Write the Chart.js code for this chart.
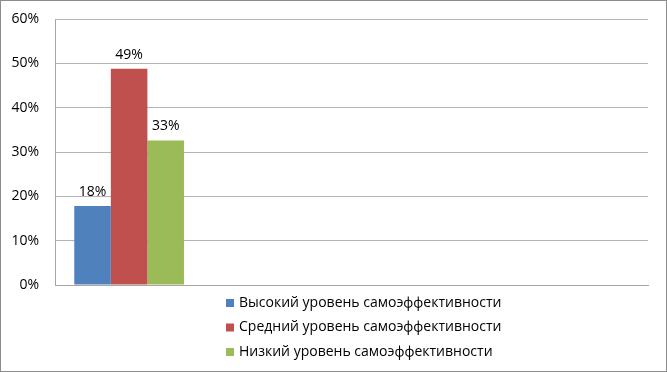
<!DOCTYPE html>
<html>
<head>
<meta charset="utf-8">
<script src="https://cdn.jsdelivr.net/npm/chart.js@4/dist/chart.umd.min.js"></script>
<style>
  html, body { margin: 0; padding: 0; background: #fff; }
  #wrap { width: 665px; height: 370px; border: 1px solid #8c8c8c; }
</style>
</head>
<body>
<div id="wrap"><canvas id="chart" width="665" height="370"></canvas></div>
<script>
// Categories (only the first carries data, the rest are empty slots)
const categories = ['', '', '', ''];
const seriesNames = [
  'Высокий уровень самоэффективности',
  'Средний уровень самоэффективности',
  'Низкий уровень самоэффективности'
];
const highValues = [0.178, null, null, null];
const midValues = [0.488, null, null, null];
const lowValues = [0.326, null, null, null];
const yTicks = [0, 0.1, 0.2, 0.3, 0.4, 0.5, 0.6];
const colors = ['#4f81bd', '#c0504d', '#9bbb59'];

const fontFamily = '"Open Sans", "Noto Sans", sans-serif';

// Value labels above bars
const valueLabels = {
  id: 'valueLabels',
  afterDatasetsDraw(chart) {
    const ctx = chart.ctx;
    ctx.save();
    ctx.font = '14px ' + fontFamily;
    ctx.fillStyle = '#000';
    ctx.textAlign = 'center';
    ctx.textBaseline = 'bottom';
    chart.data.datasets.forEach((ds, i) => {
      chart.getDatasetMeta(i).data.forEach((bar, j) => {
        const v = ds.data[j];
        if (v == null) return;
        ctx.fillText(Math.round(v * 100) + '%', bar.x, bar.y - 7);
      });
    });
    ctx.restore();
  }
};

// Vertical legend below the plot, as in the original
const stackedLegend = {
  id: 'stackedLegend',
  afterDraw(chart) {
    const ctx = chart.ctx;
    ctx.save();
    ctx.font = '14px ' + fontFamily;
    ctx.textBaseline = 'middle';
    ctx.textAlign = 'left';
    chart.data.datasets.forEach((ds, i) => {
      const y = 302 + i * 24.5;
      ctx.fillStyle = ds.backgroundColor;
      ctx.fillRect(225, y - 4, 8, 8);
      ctx.fillStyle = '#000';
      ctx.fillText(ds.label, 238, y);
    });
    ctx.restore();
  }
};

new Chart(document.getElementById('chart'), {
  type: 'bar',
  data: {
    labels: categories,
    datasets: [
      { label: seriesNames[0], data: highValues, backgroundColor: colors[0] },
      { label: seriesNames[1], data: midValues, backgroundColor: colors[1] },
      { label: seriesNames[2], data: lowValues, backgroundColor: colors[2] }
    ]
  },
  options: {
    responsive: false,
    animation: false,
    devicePixelRatio: 1,
    layout: { padding: { top: 18, right: 18, bottom: 78, left: 0 } },
    datasets: { bar: { categoryPercentage: 0.74, barPercentage: 1 } },
    plugins: {
      legend: { display: false },
      tooltip: { enabled: false }
    },
    scales: {
      x: {
        ticks: { display: false },
        grid: { display: false },
        border: { color: '#a6a6a6' }
      },
      y: {
        min: 0,
        max: 0.6,
        afterBuildTicks(scale) {
          scale.ticks = yTicks.map(v => ({ value: v }));
        },
        afterFit(scale) {
          scale.width = 54;
          scale.paddingTop = 0;
        },
        ticks: {
          color: '#000',
          padding: 16,
          font: { family: fontFamily, size: 14 },
          callback: v => Math.round(v * 100) + '%'
        },
        grid: { color: '#b3b3b3', drawTicks: false },
        border: { color: '#a6a6a6' }
      }
    }
  },
  plugins: [valueLabels, stackedLegend]
});
</script>
</body>
</html>
